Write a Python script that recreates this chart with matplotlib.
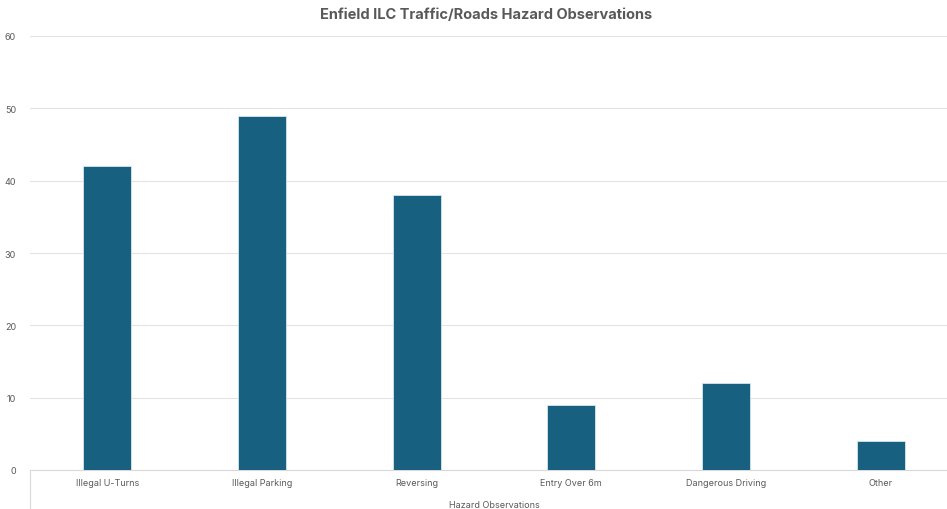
import matplotlib
matplotlib.use("Agg")
import matplotlib.pyplot as plt
from matplotlib.lines import Line2D

categories = ["Illegal U-Turns", "Illegal Parking", "Reversing", "Entry Over 6m",
              "Dangerous Driving", "Other"]
values = [42, 49, 38, 9, 12, 4]
yticks = [0, 10, 20, 30, 40, 50, 60]

plt.rcParams['font.family'] = ['Inter', 'DejaVu Sans']

fig = plt.figure(figsize=(9.47, 5.10), dpi=100)
ax = fig.add_axes([30/947, 39/510, 928/947, 434/510])

x = list(range(len(categories)))
ax.bar(x, values, width=0.31, color="#17607f", edgecolor="#d6e6ee", linewidth=0.6, zorder=3)

ax.set_xlim(-0.5, len(categories) - 0.5)
ax.set_ylim(0, 60)
ax.set_yticks(yticks)
ax.set_yticklabels([str(v) for v in yticks], fontsize=6.5, color="#595959")
ax.set_xticks(x)
ax.set_xticklabels(categories, fontsize=6.5, color="#595959")
ax.tick_params(axis='x', length=0, pad=6)
ax.tick_params(axis='y', length=0, pad=10)
ax.grid(axis='y', color="#e3e3e3", linewidth=0.8, zorder=0)
for s in ["top", "right", "left"]:
    ax.spines[s].set_visible(False)
ax.spines["bottom"].set_color("#d9d9d9")
ax.spines["bottom"].set_linewidth(0.8)

ax.add_line(Line2D([0, 0], [0, -0.09], transform=ax.transAxes, color="#d9d9d9",
                   linewidth=0.8, clip_on=False))

ax.set_xlabel("Hazard Observations", fontsize=6.5, color="#595959", labelpad=9)
fig.suptitle("Enfield ILC Traffic/Roads Hazard Observations", fontsize=10.5,
             fontweight="bold", color="#595959", x=486/947, y=0.985, va="top")

fig.savefig("out.png", dpi=100, facecolor="white")
